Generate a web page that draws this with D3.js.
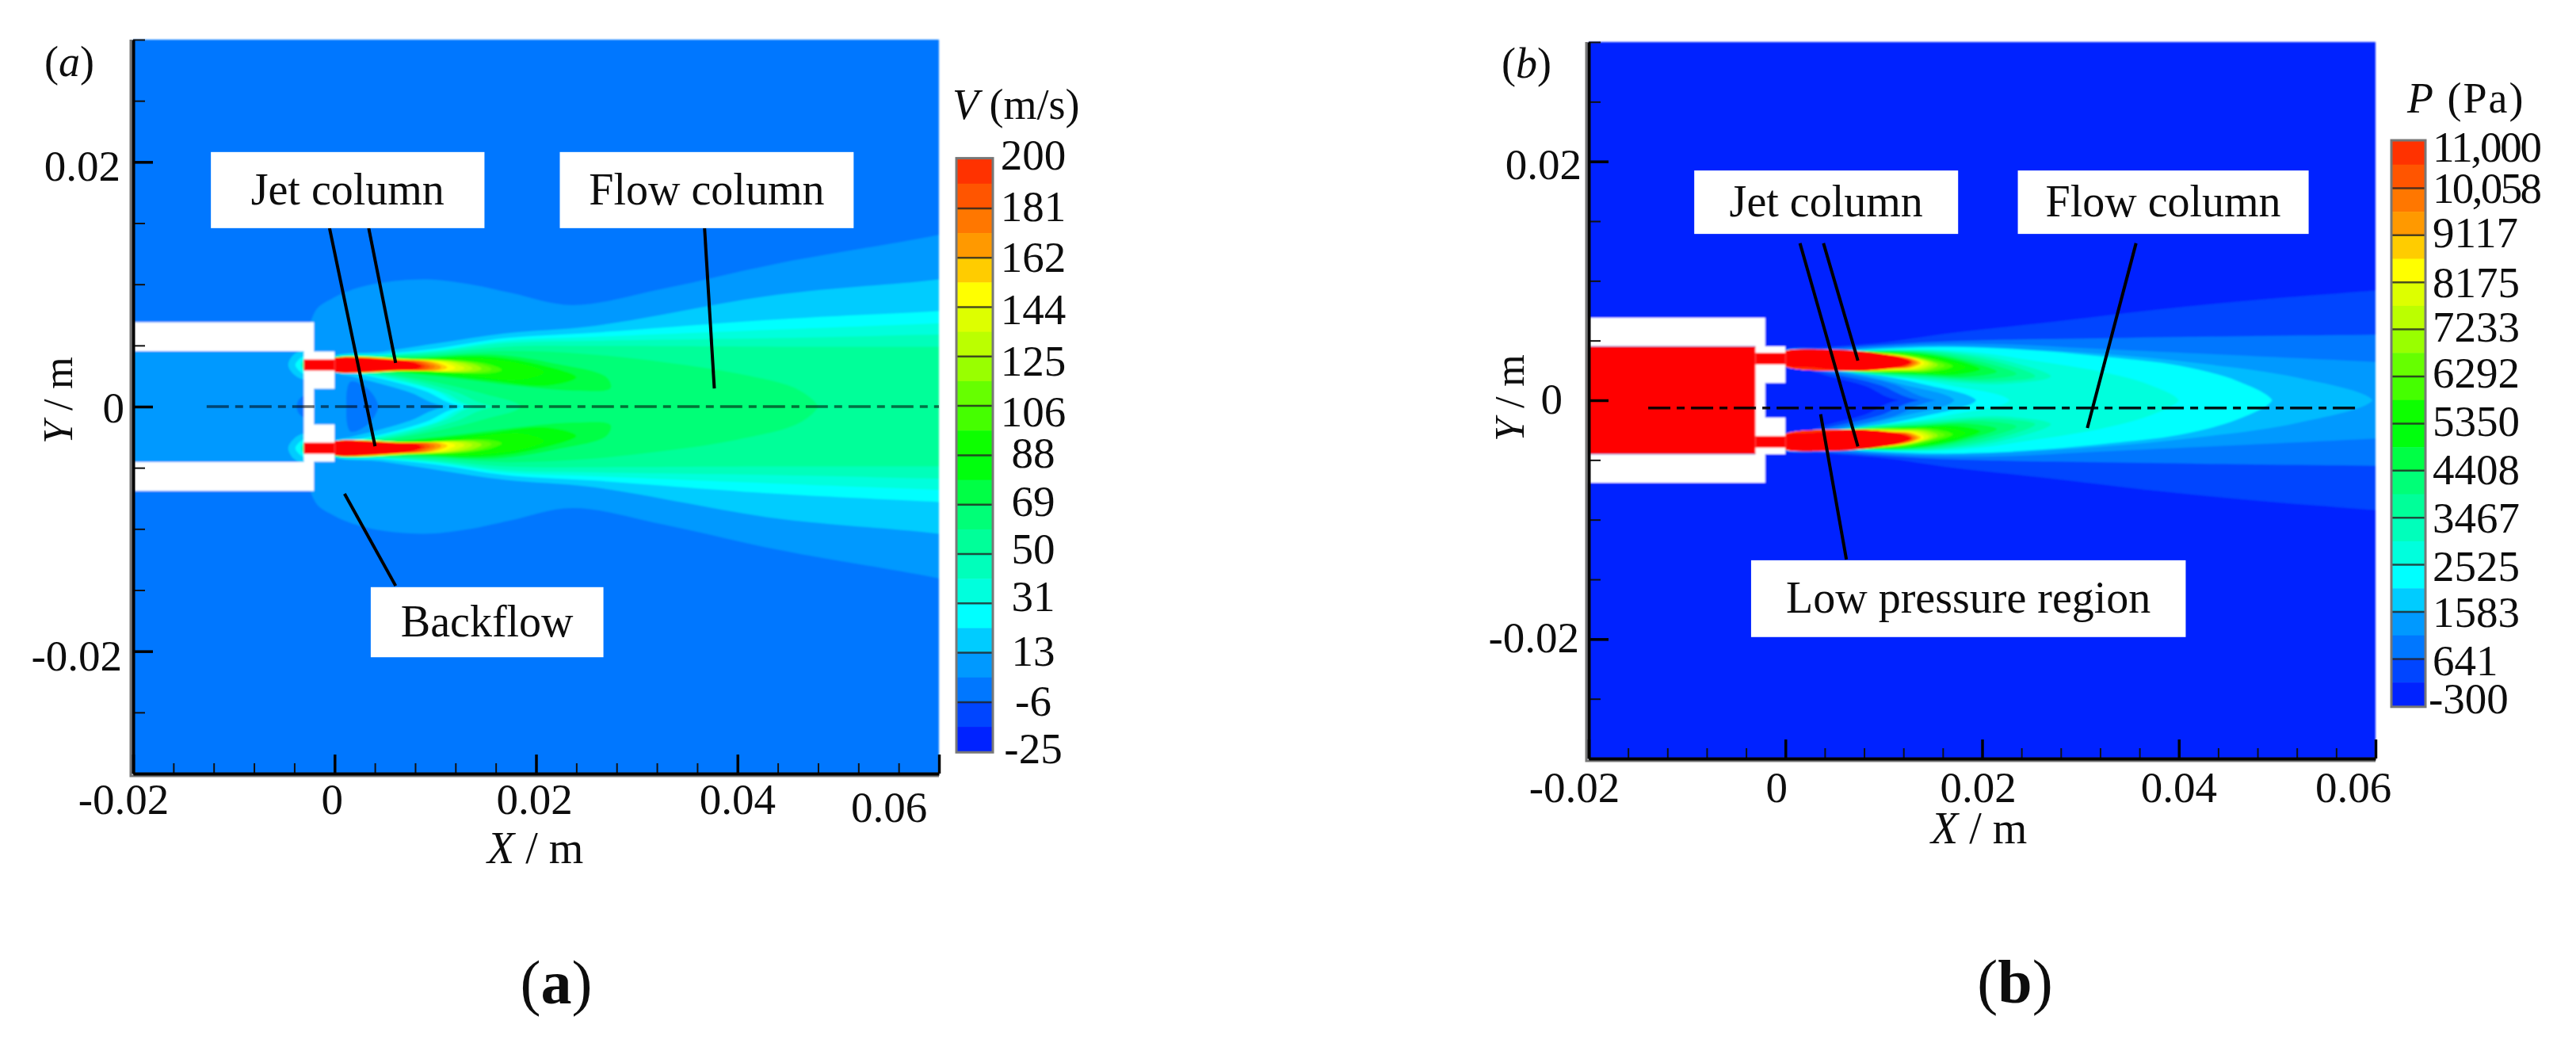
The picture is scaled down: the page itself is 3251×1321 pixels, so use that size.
<!DOCTYPE html>
<html>
<head>
<meta charset="utf-8">
<title>Velocity and pressure contours</title>
<script src="https://cdn.jsdelivr.net/npm/d3@7"></script>
<style>
    html, body { margin: 0; background: #fff; }
    svg { display: block; }
    text { font-family: "Liberation Serif", serif; fill: #111; }
</style>
</head>
<body>
<div id="chart"></div>
<script>
// Legend levels and colours, top of the colour bar first
const velocityLevels = ["200", "181", "162", "144", "125", "106", "88", "69", "50", "31", "13", "-6", "-25"];
const pressureLevels = ["11,000", "10,058", "9117", "8175", "7233", "6292", "5350", "4408", "3467", "2525", "1583", "641", "-300"];
const bandColors = ["#ff3300", "#ff5500", "#ff7700", "#ff9900", "#ffcc00", "#ffff00", "#ddff00", "#bbff00",
    "#99ff00", "#66ff00", "#44ff00", "#11ff00", "#00ff11", "#00ff44", "#00ff77", "#00ff99",
    "#00ffbb", "#00ffdd", "#00ffff", "#00ccff", "#0099ff", "#0077ff", "#0044ff", "#0022ff"];
const coreRed = "#ff0000";

const xMajorTicks = [-0.02, 0, 0.02, 0.04, 0.06];
const xMinorTicks = [-0.016, -0.012, -0.008, -0.004, 0.004, 0.008, 0.012, 0.016, 0.024, 0.028, 0.032, 0.036, 0.044, 0.048, 0.052, 0.056];
const yMajorTicks = [-0.02, 0, 0.02];
const yMinorTicks = [-0.03, -0.025, -0.015, -0.01, -0.005, 0.005, 0.01, 0.015, 0.025, 0.03];

// Nozzle outline, upper half, in mm. The lower half is its mirror image.
const nozzleWall = [[-20, 6.9], [-2.05, 6.9], [-2.05, 4.51], [0, 4.51], [0, 1.45], [-2.05, 1.45], [-2.05, 0], [-3.05, 0], [-3.05, 4.53], [-20, 4.53]];

// Contours of the velocity field, upper half, in mm. Outermost first.
const velocityBandColors = ["#0099ff", "#0077ff", "#00ccff", "#00ffff", "#00ffdd", "#00ffbb", "#00ff99", "#00ff77", "#00ff44", "#00ff11", "#11ff00",
    "#44ff00", "#66ff00", "#99ff00", "#bbff00", "#ddff00", "#ffff00", "#ffcc00", "#ff9900", "#ff7700", "#ff5500", "#ff3300", "#ff0000"];
const velocityContours = [
    [[-2.05, -1], [-2.05, 7.6], [-0.1, 8.9], [3.2, 9.9], [8.7, 10.4], [13.1, 10.05], [17.5, 9.3], [23.6, 8.3], [33, 9.7], [44, 11.7], [60, 14.05], [66, 15.2], [66, -1]],
    [[1.55, -1], [1.55, 2.03], [3.25, 1.49], [4.3, 0.2], [4.3, -1]],
    [[-0.3, 4], [4.8, 4.5], [10.1, 5.16], [17, 6], [25.8, 6.6], [44, 9.15], [60, 10.4], [66, 11.2], [66, -1], [11.1, 0], [7.45, 1.17], [4.3, 1.92], [1.7, 2.46], [-0.3, 2.9]],
    [[-0.3, 3.95], [4.8, 4.3], [10.1, 4.75], [17, 5.6], [25.8, 6.05], [44, 7.13], [60, 7.8], [66, 8.1], [66, -1], [12.7, 0], [9, 1.27], [5.35, 2.14], [2.2, 2.68], [-0.3, 2.95]],
    [[-0.3, 3.93], [4.8, 4.25], [10.1, 4.6], [17, 5.4], [25.8, 5.7], [44, 6.3], [60, 6.8], [66, 7], [66, -1], [13.3, 0], [10, 1.3], [5.4, 2.25], [2.3, 2.72], [-0.3, 2.96]],
    [[-0.3, 3.92], [4.8, 4.19], [10.1, 4.5], [17, 5.2], [25.8, 5.38], [44, 5.6], [60, 5.9], [66, 6], [66, -1], [13.9, 0], [11, 1.1], [6, 2.3], [2.5, 2.75], [-0.3, 2.97]],
    [[-0.3, 3.9], [5, 4.1], [10, 4.35], [17, 4.9], [25.8, 4.95], [44, 4.9], [60, 4.9], [66, 4.9], [66, -1], [15.9, 0], [12, 1.2], [7, 2.3], [3, 2.8], [-0.3, 2.98]],
    [[-0.3, 3.88], [5, 4.05], [10, 4.2], [17, 4.55], [25, 4.3], [33, 3.6], [40, 2.7], [46, 1.4], [48, 0], [48, -1], [18.5, -1], [18.5, 0], [15, 1], [10, 2], [5, 2.7], [1, 3], [-0.3, 3]],
    [[-0.3, 3.85], [8, 4], [16, 4.25], [22, 3.5], [27, 2.4], [27.4, 1.5], [24, 1.3], [18, 1.7], [12, 2.3], [6, 2.8], [1.2, 3.05], [-0.3, 3.02]],
    [[-0.3, 3.83], [8, 3.95], [15, 4.1], [20, 3.5], [24, 2.4], [21, 1.7], [15, 2.15], [9, 2.65], [1, 3.05], [-0.3, 3.03]],
    [[-0.3, 3.8], [8, 3.9], [14, 3.95], [19, 3.4], [20.8, 2.8], [18.5, 2.2], [13, 2.55], [8, 2.9], [1, 3.08], [-0.3, 3.04]],
    [[-0.3, 3.8], [8, 3.87], [13, 3.75], [15.6, 3.4], [16.6, 3], [15.6, 2.75], [13, 2.72], [8, 2.95], [-0.3, 3]],
    [[-0.3, 3.8], [8, 3.85], [12.5, 3.72], [14.6, 3.45], [15.6, 3.05], [14.6, 2.8], [12.5, 2.78], [8, 2.95], [-0.3, 3]],
    [[-0.3, 3.8], [8, 3.85], [12, 3.7], [13.7, 3.48], [14.6, 3.1], [13.7, 2.85], [12, 2.82], [8, 2.95], [-0.3, 3]],
    [[-0.3, 3.8], [8, 3.83], [11.5, 3.7], [12.8, 3.5], [13.7, 3.13], [12.8, 2.88], [11.5, 2.85], [8, 2.95], [-0.3, 3]],
    [[-0.3, 3.8], [8, 3.82], [11, 3.7], [12, 3.5], [12.9, 3.15], [12, 2.9], [11, 2.88], [8, 2.95], [-0.3, 3]],
    [[-0.3, 3.8], [7.5, 3.82], [10.5, 3.65], [11.2, 3.5], [12, 3.18], [11.2, 2.93], [10.5, 2.9], [7.5, 2.96], [-0.3, 3]],
    [[-0.3, 3.8], [7, 3.82], [9.8, 3.68], [10.5, 3.52], [11.2, 3.2], [10.5, 2.95], [9.8, 2.93], [7, 2.96], [-0.3, 3]],
    [[-0.3, 3.8], [7, 3.8], [9.3, 3.68], [10, 3.5], [10.6, 3.22], [10, 2.97], [9.3, 2.95], [7, 2.97], [-0.3, 3]],
    [[-0.3, 3.8], [6.5, 3.8], [8.8, 3.68], [9.4, 3.5], [10, 3.25], [9.4, 3], [8.8, 2.97], [6.5, 2.97], [-0.3, 3]],
    [[-0.3, 3.8], [6.5, 3.78], [8.3, 3.68], [8.9, 3.5], [9.5, 3.27], [8.9, 3.02], [8.3, 2.98], [6.5, 2.98], [-0.3, 3]],
    [[-0.3, 3.8], [6, 3.8], [7.8, 3.66], [8.4, 3.5], [9, 3.3], [8.4, 3.04], [7.8, 3], [6, 2.98], [-0.3, 3]],
    [[-0.3, 3.85], [3.5, 3.9], [6, 3.8], [7.6, 3.65], [8.2, 3.5], [8.6, 3.33], [8.2, 3.1], [7.6, 3.02], [6, 2.98], [3.5, 2.9], [-0.3, 2.95]]
];

// Inside the chamber, upstream of the nozzle
const velocityChamberColors = ["#0099ff", "#0077ff", "#00ccff", "#00ffff", "#00ff99"];
const velocityChamber = [
    [[-21, -1], [-21, 4.53], [-3, 4.53], [-3, -1]],
    [[-3, -1], [-3, 0.85], [-3.4, 0.7], [-3.7, 0.3], [-3.7, -1]],
    [[-3, 4.5], [-4, 4.3], [-4.6, 3.4], [-4, 2.6], [-3, 2.25]],
    [[-3, 4.1], [-3.6, 3.8], [-3.9, 3.4], [-3.6, 3], [-3, 2.7]],
    [[-3, 3.9], [-3.3, 3.4], [-3, 2.9]]
];
const velocityChannel = [[-3.05, 2.95], [-3.05, 3.85], [0, 3.85], [0, 2.95]];

// Contours of the pressure field, same order
const pressureBandColors = ["#0044ff", "#0077ff", "#0099ff", "#00bbff", "#00ffff", "#00ffdd", "#00ffbb", "#00ff99", "#00ff77", "#00ff44", "#00ff11", "#11ff00",
    "#44ff00", "#66ff00", "#99ff00", "#bbff00", "#ddff00", "#ffff00", "#ffcc00", "#ff9900", "#ff7700", "#ff3300", "#ff0000"];
const pressureContours = [
    [[-0.3, 4.1], [4, 4.45], [10, 4.85], [16.9, 5.64], [26.5, 6.5], [37.9, 7.6], [49.2, 8.5], [60, 9.2], [66, 9.6], [66, -1], [11.5, 0], [8.1, 1.2], [4.1, 2.08], [0.8, 2.85], [-0.3, 2.96]],
    [[-0.3, 4.08], [4.5, 4.35], [10, 4.65], [15, 4.9], [20.9, 5.05], [32.2, 5.2], [49.2, 5.4], [60, 5.5], [66, 5.6], [66, -1], [13.6, 0], [9.5, 1.3], [5, 2.15], [0.8, 2.87], [-0.3, 2.97]],
    [[-0.3, 4.06], [5, 4.2], [10, 4.5], [15, 4.7], [22, 4.7], [32, 4.3], [45, 3.8], [60, 3.2], [66, 2.9], [66, -1], [15.3, 0], [10.8, 1.4], [6, 2.2], [0.8, 2.9], [-0.3, 2.98]],
    [[-0.3, 4.04], [5, 4.15], [10, 4.4], [15, 4.55], [22, 4.4], [32, 3.9], [42, 3.1], [52, 1.9], [59.7, 0], [59.7, -1], [17.2, -1], [17.2, 0], [12, 1.3], [7, 2.2], [1, 2.93], [-0.3, 2.98]],
    [[-0.3, 4.02], [5, 4.1], [10, 4.3], [15, 4.45], [20, 4.4], [26.5, 4.1], [33, 3.6], [40, 2.9], [46, 1.6], [49.5, 0], [49.5, -1], [19.4, -1], [19.4, 0], [14, 1.35], [8, 2.25], [2, 2.8], [-0.3, 2.99]],
    [[-0.3, 4], [5, 4.05], [10, 4.2], [15, 4.25], [20, 3.95], [25.4, 3.3], [32, 2.4], [37, 1.3], [40, 0], [40, -1], [22.8, -1], [22.8, 0], [17, 1.2], [11, 2], [6, 2.4], [1.5, 2.9], [-0.3, 3]],
    [[-0.3, 3.98], [6, 4.1], [11, 4.2], [16, 4.1], [22, 3.4], [27, 2], [22, 1.35], [14, 1.75], [8, 2.2], [1.5, 2.85], [-0.3, 3]],
    [[-0.3, 3.98], [6, 4.08], [11, 4.17], [16, 4], [22, 3.1], [25.4, 2], [21, 1.55], [14, 1.9], [8, 2.3], [1.5, 2.87], [-0.3, 3]],
    [[-0.3, 3.98], [6, 4.06], [11, 4.14], [15.5, 3.9], [20.5, 3.1], [23.5, 2.2], [20, 1.75], [14, 2], [8, 2.35], [1.5, 2.88], [-0.3, 3]],
    [[-0.3, 3.98], [6, 4.05], [11, 4.1], [15, 3.85], [19, 3.15], [21.5, 2.4], [18.5, 1.95], [14, 2.1], [8, 2.38], [1.5, 2.9], [-0.3, 3]],
    [[-0.3, 3.98], [6, 4.04], [11, 4.05], [14.5, 3.8], [18, 3.2], [19.8, 2.6], [17.5, 2.15], [13.5, 2.2], [8, 2.4], [1.5, 2.9], [-0.3, 3]],
    [[-0.3, 3.98], [6, 4.03], [11, 4], [14, 3.75], [18.3, 2.75], [16, 2.25], [13, 2.3], [8, 2.42], [1.5, 2.92], [-0.3, 3]],
    [[-0.3, 3.98], [6, 4.02], [10.8, 3.95], [13.5, 3.7], [17, 2.85], [15, 2.4], [12.5, 2.38], [7.5, 2.43], [1.5, 2.93], [-0.3, 3]],
    [[-0.3, 3.98], [6, 4.02], [10.8, 3.9], [13.2, 3.6], [16.2, 2.9], [14.5, 2.45], [12, 2.42], [7, 2.45], [-0.3, 3]],
    [[-0.3, 3.98], [6, 4.02], [10.8, 3.87], [13.4, 3.55], [15, 3.2], [15.5, 2.95], [15, 2.7], [14, 2.5], [12, 2.45], [7, 2.47], [-0.3, 3]],
    [[-0.3, 3.98], [6, 4.02], [10.8, 3.84], [13.2, 3.55], [14.5, 3.25], [15, 3], [14.5, 2.75], [13.6, 2.55], [11.5, 2.5], [7, 2.47], [-0.3, 3]],
    [[-0.3, 3.98], [6, 4.02], [10.8, 3.82], [13, 3.55], [14.1, 3.3], [14.6, 3.05], [14.1, 2.78], [13.2, 2.6], [11, 2.55], [7, 2.47], [-0.3, 3]],
    [[-0.3, 3.98], [6, 4.02], [10.8, 3.8], [12.8, 3.55], [13.6, 3.35], [14.1, 3.1], [13.6, 2.82], [12.9, 2.65], [10.8, 2.6], [7, 2.47], [-0.3, 3]],
    [[-0.3, 3.98], [6, 4.02], [10.8, 3.78], [12.6, 3.55], [13.3, 3.38], [13.8, 3.12], [13.3, 2.85], [12.6, 2.68], [10.8, 2.63], [7, 2.47], [-0.3, 3]],
    [[-0.3, 3.98], [6, 4.02], [10.8, 3.77], [12.4, 3.55], [13, 3.4], [13.5, 3.14], [13, 2.88], [12.4, 2.72], [10.8, 2.65], [7, 2.47], [-0.3, 3]],
    [[-0.3, 3.98], [6, 4.02], [10.8, 3.76], [12.2, 3.55], [12.8, 3.42], [13.2, 3.16], [12.8, 2.9], [12.2, 2.75], [10.8, 2.67], [7, 2.47], [-0.3, 3]],
    [[-0.3, 3.98], [6, 4.02], [10.8, 3.75], [12, 3.55], [12.5, 3.42], [12.9, 3.18], [12.5, 2.92], [12, 2.8], [10.8, 2.69], [7, 2.47], [-0.3, 3]],
    [[-0.3, 3.96], [4.3, 4.25], [8.1, 4.07], [10.8, 3.74], [12, 3.48], [12.7, 3.19], [12, 2.9], [10.8, 2.7], [6.75, 2.48], [2.7, 2.74], [-0.3, 3]]
];
const pressureChamberColors = ["#ff0000"];
const pressureChamber = [[[-21, -1], [-21, 4.5], [-3, 4.5], [-3, -1]]];
const pressureChannel = [[-3.05, 3], [-3.05, 3.96], [0, 3.96], [0, 3]];

// Callouts, in mm: box as [x0, x1, y0, y1], then its text; leader lines as point pairs
const velocityBoxes = [[-12.28, 14.88, 14.59, 20.81], [22.36, 51.53, 14.59, 20.81], [3.59, 26.69, -20.49, -14.76]];
const velocityBoxLabels = ["Jet column", "Flow column", "Backflow"];
const velocityLeaders = [[[-0.5, 14.59], [4.02, -3.24]], [[3.39, 14.59], [6.06, 3.57]], [[36.73, 14.59], [37.7, 1.49]], [[0.99, -7.13], [6.06, -14.65]]];
const velocityCenterline = [[-12.7, 0], [60, 0]];

const pressureBoxes = [[-9.27, 17.56, 13.93, 19.24], [23.63, 53.2, 13.93, 19.24], [-3.49, 40.7, -19.83, -13.4]];
const pressureBoxLabels = ["Jet column", "Flow column", "Low pressure region"];
const pressureLeaders = [[[1.48, 13.15], [7.37, -3.87]], [[3.87, 13.15], [7.37, 3.32]], [[35.65, 13.15], [30.7, -2.32]], [[6.2, -13.33], [3.58, -1.17]]];
const pressureCenterline = [[-13.95, -0.65], [58.5, -0.65]];

// Where things sit on the page
const panelA = {
    xRange: [168, 1185], yRange: [976, 50], background: "#0077ff",
    bandColors: velocityBandColors, contours: velocityContours,
    chamberColors: velocityChamberColors, chamber: velocityChamber, channel: velocityChannel,
    boxes: velocityBoxes, boxLabels: velocityBoxLabels, leaders: velocityLeaders,
    centerline: velocityCenterline, centerlineOpacity: 0.55,
    xLabelNudge: [[-12, 0], [-3, 0], [-2, 0], [0, 0], [-63, 10]], xLabelBaseline: 1027,
    yLabelRight: [154, 157, 152], yLabelBaseline: [24, 20, 23.5],
    tag: "a", tagPos: [56, 96], xTitlePos: [615, 1089], yTitlePos: [91, 560],
    caption: "a", captionPos: [702, 1266],
    levels: velocityLevels, barX: [1207, 1253], barY: [200.6, 948.2],
    labelAnchor: "middle", labelX: 1304, labelNudge: [-5, -2, 0, 3, 6, 8, -2, -4, -6, -8, -2, -1, -3],
    barTitle: ["V", " (m/s)"], barTitlePos: [1202, 150], barTitleSpacing: 0
};
const panelB = {
    xRange: [2005, 2998], yRange: [957, 53], background: "#0022ff",
    bandColors: pressureBandColors, contours: pressureContours,
    chamberColors: pressureChamberColors, chamber: pressureChamber, channel: pressureChannel,
    boxes: pressureBoxes, boxLabels: pressureBoxLabels, leaders: pressureLeaders,
    centerline: pressureCenterline, centerlineOpacity: 0.9,
    xLabelNudge: [[-18, 0], [-11, 0], [-5, 0], [0, 0], [-28, 0]], xLabelBaseline: 1012,
    yLabelRight: [1993, 1972, 1996], yLabelBaseline: [17, 17, 22],
    tag: "b", tagPos: [1895, 98], xTitlePos: [2437, 1064], yTitlePos: [1923, 557],
    caption: "b", captionPos: [2543, 1265],
    levels: pressureLevels, barX: [3018, 3061], barY: [178, 890.8],
    labelAnchor: "start", labelX: 3070, labelNudge: [8, 1, -3, 1, -3, -4, -2, -1, 1, 2, 1, 3, -9],
    barTitle: ["P", " (Pa)"], barTitlePos: [3038, 142], barTitleSpacing: 2
};

const tickFont = 55;
const labelFont = 56;
const commaLabelWidth = 138; // the comma takes no room of its own in the figure

const svg = d3.select("#chart").append("svg")
    .attr("width", 3251)
    .attr("height", 1321)
    .attr("viewBox", "0,0,3251,1321");

const defs = svg.append("defs");
[["softField", 1.2], ["softText", 0.45]].forEach(([id, blur]) => {
    defs.append("filter").attr("id", id)
        .attr("filterUnits", "userSpaceOnUse")
        .attr("x", 0).attr("y", 0).attr("width", 3251).attr("height", 1321)
        .append("feGaussianBlur").attr("stdDeviation", blur);
});

function drawPanel(panel, name) {
    const x = d3.scaleLinear().domain([-0.02, 0.06]).range(panel.xRange);
    const y = d3.scaleLinear().domain([-0.03, 0.03]).range(panel.yRange);
    const xMm = v => x(v / 1000);
    const yMm = v => y(v / 1000);
    const root = svg.append("g").attr("class", name);

    // one clip per half, so a contour never spills over the axis of symmetry
    const [xLeft, xRight] = panel.xRange;
    const [yBottom, yTop] = panel.yRange;
    const yZero = y(0);
    defs.append("clipPath").attr("id", `${name}-upper`).append("rect")
        .attr("x", xLeft).attr("y", yTop).attr("width", xRight - xLeft).attr("height", yZero - yTop + 1);
    defs.append("clipPath").attr("id", `${name}-lower`).append("rect")
        .attr("x", xLeft).attr("y", yZero).attr("width", xRight - xLeft).attr("height", yBottom - yZero);

    const field = root.append("g").attr("filter", "url(#softField)");
    field.append("rect")
        .attr("x", xLeft).attr("y", yTop)
        .attr("width", xRight - xLeft).attr("height", yBottom - yTop)
        .attr("fill", panel.background);

    [1, -1].forEach(sign => {
        const half = field.append("g").attr("clip-path", `url(#${name}-${sign > 0 ? "upper" : "lower"})`);
        const smooth = d3.line()
            .x(d => xMm(d[0]))
            .y(d => yMm(sign * d[1]))
            .curve(d3.curveCatmullRomClosed.alpha(0.5));
        const straight = d3.line()
            .x(d => xMm(d[0]))
            .y(d => yMm(sign * d[1]))
            .curve(d3.curveLinearClosed);

        half.selectAll("path.contour")
            .data(panel.contours)
            .join("path")
            .attr("class", "contour")
            .attr("d", smooth)
            .attr("fill", (d, i) => panel.bandColors[i]);

        half.selectAll("path.chamber")
            .data(panel.chamber)
            .join("path")
            .attr("class", "chamber")
            .attr("d", (d, i) => i === 0 ? straight(d) : smooth(d))
            .attr("fill", (d, i) => panel.chamberColors[i]);

        half.append("path")
            .attr("d", straight(nozzleWall))
            .attr("fill", "#fff");

        half.append("path")
            .attr("d", straight(panel.channel))
            .attr("fill", coreRed);
    });

    const line = d3.line().x(d => xMm(d[0])).y(d => yMm(d[1]));

    root.append("path")
        .attr("d", line(panel.centerline))
        .attr("fill", "none")
        .attr("stroke", "#000")
        .attr("stroke-opacity", panel.centerlineOpacity)
        .attr("stroke-width", 3.5)
        .attr("stroke-dasharray", "28,8,10,8");

    root.append("g").selectAll("path")
        .data(panel.leaders)
        .join("path")
        .attr("d", line)
        .attr("fill", "none")
        .attr("stroke", "#000")
        .attr("stroke-width", 4);

    root.append("g").selectAll("rect")
        .data(panel.boxes)
        .join("rect")
        .attr("x", d => xMm(d[0]))
        .attr("y", d => yMm(d[3]))
        .attr("width", d => xMm(d[1]) - xMm(d[0]))
        .attr("height", d => yMm(d[2]) - yMm(d[3]))
        .attr("fill", "#fff");

    const texts = root.append("g").attr("filter", "url(#softText)");

    texts.selectAll("text.box-label")
        .data(panel.boxes)
        .join("text")
        .attr("class", "box-label")
        .attr("x", d => xMm((d[0] + d[1]) / 2))
        .attr("y", d => yMm((d[2] + d[3]) / 2) + 18)
        .attr("text-anchor", "middle")
        .attr("font-size", labelFont)
        .text((d, i) => panel.boxLabels[i]);

    renderAxes(root, texts, panel, x, y);
    renderColorBar(root, texts, panel);
}

function renderAxes(root, texts, panel, x, y) {
    const [xLeft, xRight] = panel.xRange;
    const [yBottom, yTop] = panel.yRange;

    // the grey shadow next to the axis lines
    root.append("path")
        .attr("d", `M${xLeft - 3},${yTop}V${yBottom + 3}H${xRight}`)
        .attr("fill", "none")
        .attr("stroke", "#777")
        .attr("stroke-width", 3);

    const xMinor = d3.axisBottom(x).tickValues(xMinorTicks).tickSize(-13).tickSizeOuter(0).tickFormat("");
    const yMinor = d3.axisLeft(y).tickValues(yMinorTicks).tickSize(-15).tickSizeOuter(0).tickFormat("");
    const xMajor = d3.axisBottom(x).tickValues(xMajorTicks).tickSize(-24).tickSizeOuter(0).tickFormat(String);
    const yMajor = d3.axisLeft(y).tickValues(yMajorTicks).tickSize(-25).tickSizeOuter(0).tickFormat(String);

    const axes = root.append("g");
    const minorX = axes.append("g").attr("transform", `translate(0, ${yBottom})`).call(xMinor);
    const minorY = axes.append("g").attr("transform", `translate(${xLeft}, 0)`).call(yMinor);
    const majorX = axes.append("g").attr("transform", `translate(0, ${yBottom})`).call(xMajor);
    const majorY = axes.append("g").attr("transform", `translate(${xLeft}, 0)`).call(yMajor);

    [minorX, minorY].forEach(g => g.selectAll("line").attr("stroke", "#111").attr("stroke-width", 2));
    [majorX, majorY].forEach(g => g.selectAll("line").attr("stroke", "#000").attr("stroke-width", 3.5));
    [minorX, minorY].forEach(g => g.select(".domain").remove());
    [majorX, majorY].forEach(g => g.select(".domain").attr("stroke", "#000").attr("stroke-width", 4));

    // axis labels move to the soft text layer, at the places the figure has them
    minorX.selectAll("text").remove();
    minorY.selectAll("text").remove();
    majorX.selectAll("text").remove();
    majorY.selectAll("text").remove();

    texts.selectAll("text.x-tick")
        .data(xMajorTicks)
        .join("text")
        .attr("class", "x-tick")
        .attr("x", (d, i) => x(d) + panel.xLabelNudge[i][0])
        .attr("y", (d, i) => panel.xLabelBaseline + panel.xLabelNudge[i][1])
        .attr("text-anchor", "middle")
        .attr("font-size", tickFont)
        .text(String);

    texts.selectAll("text.y-tick")
        .data(yMajorTicks)
        .join("text")
        .attr("class", "y-tick")
        .attr("x", (d, i) => panel.yLabelRight[i])
        .attr("y", (d, i) => y(d) + panel.yLabelBaseline[i])
        .attr("text-anchor", "end")
        .attr("font-size", tickFont)
        .text(String);

    const xTitle = texts.append("text")
        .attr("x", panel.xTitlePos[0]).attr("y", panel.xTitlePos[1])
        .attr("font-size", labelFont);
    xTitle.append("tspan").attr("font-style", "italic").text("X");
    xTitle.append("tspan").text(" / m");

    const yTitle = texts.append("text")
        .attr("transform", `translate(${panel.yTitlePos[0]}, ${panel.yTitlePos[1]}) rotate(-90)`)
        .attr("font-size", 52);
    yTitle.append("tspan").attr("font-style", "italic").text("Y");
    yTitle.append("tspan").text(" / m");

    const tag = texts.append("text")
        .attr("x", panel.tagPos[0]).attr("y", panel.tagPos[1])
        .attr("font-size", 54);
    tag.append("tspan").text("(");
    tag.append("tspan").attr("font-style", "italic").text(panel.tag);
    tag.append("tspan").text(")");

    const caption = texts.append("text")
        .attr("x", panel.captionPos[0]).attr("y", panel.captionPos[1])
        .attr("text-anchor", "middle")
        .attr("font-size", 78);
    caption.append("tspan").text("(");
    caption.append("tspan").attr("font-weight", "bold").text(panel.caption);
    caption.append("tspan").text(")");
}

function renderColorBar(root, texts, panel) {
    const levelY = d3.scalePoint().domain(panel.levels).range(panel.barY);
    const [barLeft, barRight] = panel.barX;
    const barWidth = barRight - barLeft;

    // every level step holds two shades of the ramp
    const steps = d3.pairs(panel.levels);
    const bands = steps.flatMap(([top, bottom], i) => {
        const mid = (levelY(top) + levelY(bottom)) / 2;
        return [
            {y0: levelY(top), y1: mid, color: bandColors[i * 2]},
            {y0: mid, y1: levelY(bottom), color: bandColors[i * 2 + 1]}
        ];
    });

    const bar = root.append("g").attr("filter", "url(#softText)");

    bar.selectAll("rect.band")
        .data(bands)
        .join("rect")
        .attr("class", "band")
        .attr("x", barLeft)
        .attr("y", d => d.y0)
        .attr("width", barWidth)
        .attr("height", d => d.y1 - d.y0 + 0.5)
        .attr("fill", d => d.color);

    bar.selectAll("line")
        .data(panel.levels.slice(1, -1))
        .join("line")
        .attr("x1", barLeft).attr("x2", barRight)
        .attr("y1", d => levelY(d)).attr("y2", d => levelY(d))
        .attr("stroke", "#222")
        .attr("stroke-opacity", 0.8)
        .attr("stroke-width", 2.5);

    bar.append("rect")
        .attr("x", barLeft).attr("y", panel.barY[0] - 1)
        .attr("width", barWidth).attr("height", panel.barY[1] - panel.barY[0] + 2)
        .attr("fill", "none")
        .attr("stroke", "#777")
        .attr("stroke-width", 3);

    texts.selectAll("text.level")
        .data(panel.levels)
        .join("text")
        .attr("class", "level")
        .attr("x", d => d.startsWith("-") && panel.labelAnchor === "start" ? panel.labelX - 5 : panel.labelX)
        .attr("y", (d, i) => levelY(d) + panel.labelNudge[i] + 18)
        .attr("text-anchor", panel.labelAnchor)
        .attr("font-size", tickFont)
        .attr("textLength", d => d.includes(",") ? commaLabelWidth : null)
        .text(d => d);

    const title = texts.append("text")
        .attr("x", panel.barTitlePos[0]).attr("y", panel.barTitlePos[1])
        .attr("font-size", 54)
        .attr("letter-spacing", panel.barTitleSpacing);
    title.append("tspan").attr("font-style", "italic").text(panel.barTitle[0]);
    title.append("tspan").text(panel.barTitle[1]);
}

drawPanel(panelA, "velocity");
drawPanel(panelB, "pressure");
</script>
</body>
</html>
